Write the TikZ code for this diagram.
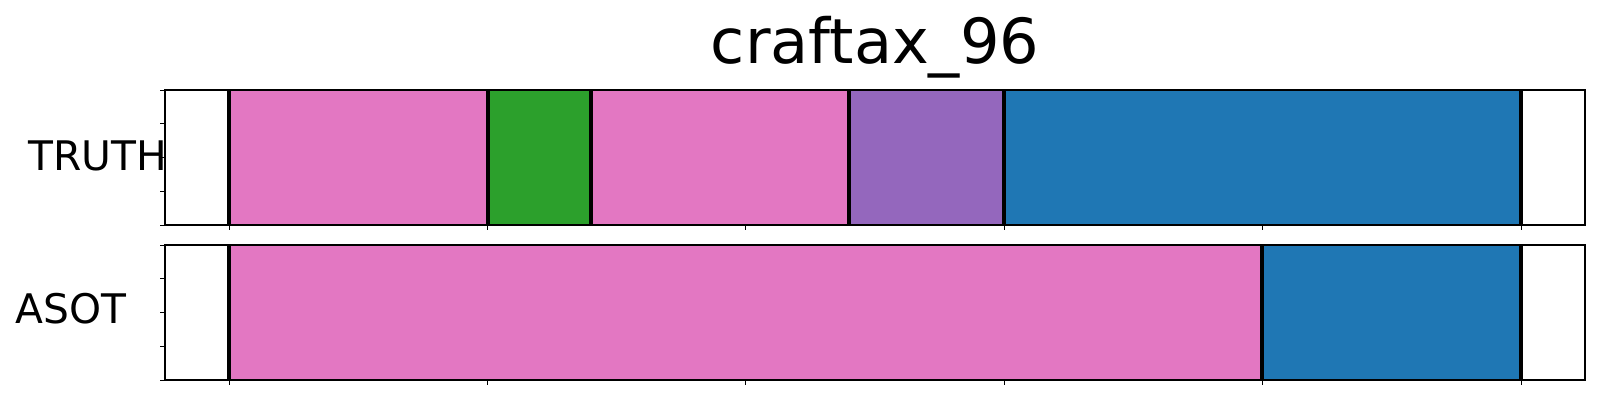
\documentclass[tikz,border=0pt]{standalone}
\usepackage{fontspec}
\setmainfont{DejaVu Sans}
\definecolor{segpink}{HTML}{E377C2}
\definecolor{seggreen}{HTML}{2CA02C}
\definecolor{segpurple}{HTML}{9467BD}
\definecolor{segblue}{HTML}{1F77B4}
\tikzset{
  frame/.style={draw=black, line width=0.12mm},
  cut/.style={black, line width=0.38mm},
  tick/.style={black, line width=0.1mm},
  rowlabel/.style={font=\fontsize{11.6pt}{14pt}\selectfont, inner sep=0pt}
}
\begin{document}
\begin{tikzpicture}[x=0.1mm, y=-0.1mm]
			\useasboundingbox (0,0) rectangle (1600,400);
			\node[font=\fontsize{17.7pt}{20pt}\selectfont, inner sep=0pt, anchor=base] (title) at (875,63) {craftax\_96};
			\foreach \xa/\xb/\c in {229/488/segpink, 488/591/seggreen, 591/849/segpink, 849/1004/segpurple, 1004/1521/segblue}
				\fill [\c] (\xa,90) rectangle (\xb,225);
			\foreach \xa/\xb/\c in {229/1262/segpink, 1262/1521/segblue}
				\fill [\c] (\xa,245) rectangle (\xb,380);
			\foreach \xc in {229,488,591,849,1004,1521}
				\draw [cut] (\xc,90) -- (\xc,225);
			\foreach \xc in {229,1262,1521}
				\draw [cut] (\xc,245) -- (\xc,380);
			\draw [frame] (165,90) rectangle (1585,225);
			\draw [frame] (165,245) rectangle (1585,380);
			\foreach \t in {0,...,4} {
				\draw [tick] (160,90+33.75*\t) -- (165,90+33.75*\t);
				\draw [tick] (160,245+33.75*\t) -- (165,245+33.75*\t);
			}
			\foreach \t in {0,...,5} {
				\draw [tick] (229+258.4*\t,225) -- (229+258.4*\t,230);
				\draw [tick] (229+258.4*\t,380) -- (229+258.4*\t,385);
			}
			\node[rowlabel, anchor=base east] (truth) at (168,170) {TRUTH};
			\node[rowlabel, anchor=base west] (asot) at (15,323) {ASOT};
		\end{tikzpicture}
\end{document}
